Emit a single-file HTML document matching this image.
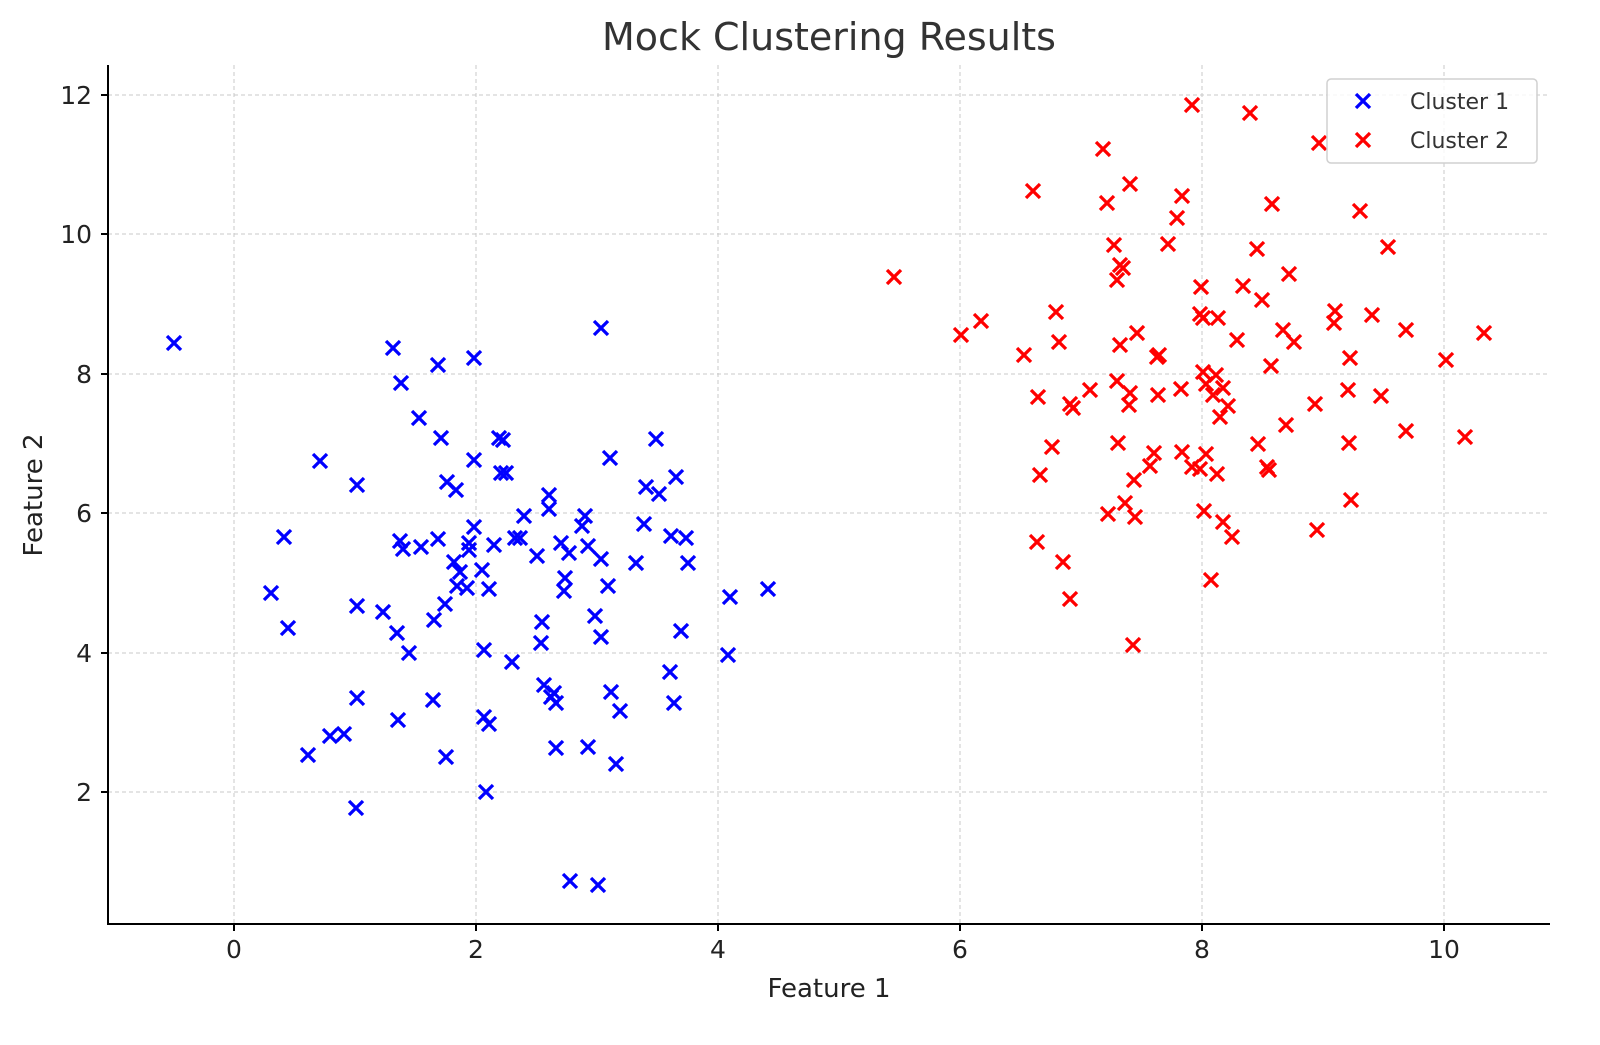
<!DOCTYPE html>
<html><head><meta charset="utf-8"><style>
html,body{margin:0;padding:0;background:#fff;overflow:hidden;}
svg{display:block;font-family:"DejaVu Sans","Liberation Sans",sans-serif;}
</style></head><body>
<svg width="1600" height="1045" viewBox="0 0 1600 1045" xmlns="http://www.w3.org/2000/svg">
<defs>
<path id="b" d="M-7,-7L7,7M-7,7L7,-7" stroke="#0000ff" stroke-width="3.3" fill="none"/>
<path id="r" d="M-7,-7L7,7M-7,7L7,-7" stroke="#ff0000" stroke-width="3.3" fill="none"/>
</defs>
<rect width="1600" height="1045" fill="#fff"/>
<g stroke="#c8c8c8" stroke-width="1" stroke-dasharray="4,3">
<line x1="234" y1="65" x2="234" y2="924"/><line x1="476" y1="65" x2="476" y2="924"/><line x1="718" y1="65" x2="718" y2="924"/><line x1="960" y1="65" x2="960" y2="924"/><line x1="1202" y1="65" x2="1202" y2="924"/><line x1="1444" y1="65" x2="1444" y2="924"/>
<line x1="108" y1="95" x2="1550" y2="95"/><line x1="108" y1="234" x2="1550" y2="234"/><line x1="108" y1="374" x2="1550" y2="374"/><line x1="108" y1="513" x2="1550" y2="513"/><line x1="108" y1="653" x2="1550" y2="653"/><line x1="108" y1="792" x2="1550" y2="792"/>
</g>
<g>
<use href="#b" x="174" y="343"/><use href="#b" x="393" y="348"/><use href="#b" x="474" y="358"/><use href="#b" x="438" y="365"/><use href="#b" x="601" y="328"/><use href="#b" x="401" y="383"/><use href="#b" x="419" y="418"/><use href="#b" x="441" y="438"/><use href="#b" x="320" y="461"/><use href="#b" x="474" y="460"/><use href="#b" x="499" y="438"/><use href="#b" x="503" y="440"/><use href="#b" x="656" y="439"/><use href="#b" x="610" y="458"/><use href="#b" x="501" y="473"/><use href="#b" x="506" y="473"/><use href="#b" x="676" y="477"/><use href="#b" x="357" y="485"/><use href="#b" x="447" y="482"/><use href="#b" x="456" y="490"/><use href="#b" x="646" y="487"/><use href="#b" x="659" y="494"/><use href="#b" x="585" y="516"/><use href="#b" x="549" y="495"/><use href="#b" x="549" y="509"/><use href="#b" x="524" y="516"/><use href="#b" x="644" y="524"/><use href="#b" x="582" y="526"/><use href="#b" x="474" y="527"/><use href="#b" x="469" y="543"/><use href="#b" x="284" y="537"/><use href="#b" x="438" y="539"/><use href="#b" x="400" y="541"/><use href="#b" x="403" y="549"/><use href="#b" x="421" y="547"/><use href="#b" x="494" y="545"/><use href="#b" x="515" y="538"/><use href="#b" x="520" y="538"/><use href="#b" x="561" y="543"/><use href="#b" x="588" y="546"/><use href="#b" x="671" y="536"/><use href="#b" x="686" y="538"/><use href="#b" x="469" y="550"/><use href="#b" x="454" y="562"/><use href="#b" x="460" y="572"/><use href="#b" x="457" y="586"/><use href="#b" x="482" y="570"/><use href="#b" x="569" y="553"/><use href="#b" x="537" y="556"/><use href="#b" x="601" y="559"/><use href="#b" x="636" y="563"/><use href="#b" x="688" y="563"/><use href="#b" x="565" y="578"/><use href="#b" x="564" y="591"/><use href="#b" x="608" y="586"/><use href="#b" x="489" y="589"/><use href="#b" x="467" y="588"/><use href="#b" x="271" y="593"/><use href="#b" x="730" y="597"/><use href="#b" x="768" y="589"/><use href="#b" x="445" y="604"/><use href="#b" x="383" y="612"/><use href="#b" x="434" y="620"/><use href="#b" x="357" y="606"/><use href="#b" x="542" y="622"/><use href="#b" x="595" y="616"/><use href="#b" x="601" y="637"/><use href="#b" x="288" y="628"/><use href="#b" x="397" y="633"/><use href="#b" x="409" y="653"/><use href="#b" x="484" y="650"/><use href="#b" x="681" y="631"/><use href="#b" x="541" y="643"/><use href="#b" x="512" y="662"/><use href="#b" x="728" y="655"/><use href="#b" x="670" y="672"/><use href="#b" x="544" y="685"/><use href="#b" x="554" y="693"/><use href="#b" x="551" y="697"/><use href="#b" x="556" y="703"/><use href="#b" x="357" y="698"/><use href="#b" x="433" y="700"/><use href="#b" x="611" y="692"/><use href="#b" x="674" y="703"/><use href="#b" x="620" y="711"/><use href="#b" x="398" y="720"/><use href="#b" x="484" y="717"/><use href="#b" x="489" y="724"/><use href="#b" x="308" y="755"/><use href="#b" x="330" y="736"/><use href="#b" x="344" y="734"/><use href="#b" x="446" y="757"/><use href="#b" x="556" y="748"/><use href="#b" x="588" y="747"/><use href="#b" x="616" y="764"/><use href="#b" x="486" y="792"/><use href="#b" x="356" y="808"/><use href="#b" x="570" y="881"/><use href="#b" x="598" y="885"/>
</g>
<g>
<use href="#r" x="894" y="277"/><use href="#r" x="961" y="335"/><use href="#r" x="981" y="321"/><use href="#r" x="1024" y="355"/><use href="#r" x="1033" y="191"/><use href="#r" x="1056" y="312"/><use href="#r" x="1059" y="342"/><use href="#r" x="1038" y="397"/><use href="#r" x="1070" y="404"/><use href="#r" x="1073" y="408"/><use href="#r" x="1090" y="390"/><use href="#r" x="1052" y="447"/><use href="#r" x="1040" y="475"/><use href="#r" x="1037" y="542"/><use href="#r" x="1063" y="562"/><use href="#r" x="1070" y="599"/><use href="#r" x="1103" y="149"/><use href="#r" x="1107" y="203"/><use href="#r" x="1114" y="245"/><use href="#r" x="1120" y="265"/><use href="#r" x="1123" y="268"/><use href="#r" x="1117" y="280"/><use href="#r" x="1130" y="184"/><use href="#r" x="1182" y="196"/><use href="#r" x="1177" y="218"/><use href="#r" x="1168" y="244"/><use href="#r" x="1120" y="345"/><use href="#r" x="1137" y="333"/><use href="#r" x="1159" y="355"/><use href="#r" x="1157" y="357"/><use href="#r" x="1117" y="381"/><use href="#r" x="1130" y="393"/><use href="#r" x="1129" y="405"/><use href="#r" x="1158" y="395"/><use href="#r" x="1181" y="389"/><use href="#r" x="1118" y="443"/><use href="#r" x="1125" y="503"/><use href="#r" x="1134" y="480"/><use href="#r" x="1150" y="466"/><use href="#r" x="1108" y="514"/><use href="#r" x="1135" y="517"/><use href="#r" x="1133" y="645"/><use href="#r" x="1192" y="105"/><use href="#r" x="1250" y="113"/><use href="#r" x="1319" y="143"/><use href="#r" x="1272" y="204"/><use href="#r" x="1360" y="211"/><use href="#r" x="1257" y="249"/><use href="#r" x="1388" y="247"/><use href="#r" x="1201" y="287"/><use href="#r" x="1243" y="286"/><use href="#r" x="1262" y="300"/><use href="#r" x="1289" y="274"/><use href="#r" x="1200" y="314"/><use href="#r" x="1203" y="318"/><use href="#r" x="1218" y="318"/><use href="#r" x="1237" y="340"/><use href="#r" x="1283" y="330"/><use href="#r" x="1294" y="342"/><use href="#r" x="1335" y="311"/><use href="#r" x="1334" y="323"/><use href="#r" x="1372" y="315"/><use href="#r" x="1406" y="330"/><use href="#r" x="1484" y="333"/><use href="#r" x="1446" y="360"/><use href="#r" x="1350" y="358"/><use href="#r" x="1271" y="366"/><use href="#r" x="1203" y="372"/><use href="#r" x="1216" y="375"/><use href="#r" x="1206" y="384"/><use href="#r" x="1223" y="388"/><use href="#r" x="1213" y="395"/><use href="#r" x="1228" y="406"/><use href="#r" x="1220" y="417"/><use href="#r" x="1315" y="404"/><use href="#r" x="1348" y="390"/><use href="#r" x="1381" y="396"/><use href="#r" x="1286" y="425"/><use href="#r" x="1258" y="444"/><use href="#r" x="1406" y="431"/><use href="#r" x="1465" y="437"/><use href="#r" x="1349" y="443"/><use href="#r" x="1154" y="453"/><use href="#r" x="1206" y="454"/><use href="#r" x="1182" y="452"/><use href="#r" x="1192" y="467"/><use href="#r" x="1200" y="469"/><use href="#r" x="1217" y="474"/><use href="#r" x="1267" y="467"/><use href="#r" x="1269" y="470"/><use href="#r" x="1351" y="500"/><use href="#r" x="1317" y="530"/><use href="#r" x="1204" y="511"/><use href="#r" x="1223" y="522"/><use href="#r" x="1232" y="537"/><use href="#r" x="1211" y="580"/>
</g>
<g stroke="#000" stroke-width="2">
<line x1="108" y1="65" x2="108" y2="925"/><line x1="107" y1="924" x2="1550" y2="924"/>
<line x1="234" y1="924" x2="234" y2="931"/><line x1="476" y1="924" x2="476" y2="931"/><line x1="718" y1="924" x2="718" y2="931"/><line x1="960" y1="924" x2="960" y2="931"/><line x1="1202" y1="924" x2="1202" y2="931"/><line x1="1444" y1="924" x2="1444" y2="931"/>
<line x1="101" y1="95" x2="108" y2="95"/><line x1="101" y1="234" x2="108" y2="234"/><line x1="101" y1="374" x2="108" y2="374"/><line x1="101" y1="513" x2="108" y2="513"/><line x1="101" y1="653" x2="108" y2="653"/><line x1="101" y1="792" x2="108" y2="792"/>
</g>
<g font-size="25" fill="#222" text-anchor="middle">
<text x="234" y="958">0</text><text x="476" y="958">2</text><text x="718" y="958">4</text><text x="960" y="958">6</text><text x="1202" y="958">8</text><text x="1444" y="958">10</text>
</g>
<g font-size="25" fill="#222" text-anchor="end">
<text x="92" y="104">12</text><text x="92" y="243">10</text><text x="92" y="383">8</text><text x="92" y="522">6</text><text x="92" y="662">4</text><text x="92" y="801">2</text>
</g>
<text x="829" y="997" font-size="26" fill="#222" text-anchor="middle">Feature 1</text>
<text x="42" y="495" font-size="26" fill="#222" text-anchor="middle" transform="rotate(-90 42 495)">Feature 2</text>
<text x="829" y="50" font-size="38" fill="#333" text-anchor="middle">Mock Clustering Results</text>
<rect x="1327" y="79" width="210" height="84" rx="4" fill="#fff" fill-opacity="0.8" stroke="#d0d0d0" stroke-width="1.5"/>
<use href="#b" x="1363" y="101"/><use href="#r" x="1363" y="140"/>
<text x="1410" y="109" font-size="22" fill="#333">Cluster 1</text>
<text x="1410" y="148" font-size="22" fill="#333">Cluster 2</text>
</svg>
</body></html>
